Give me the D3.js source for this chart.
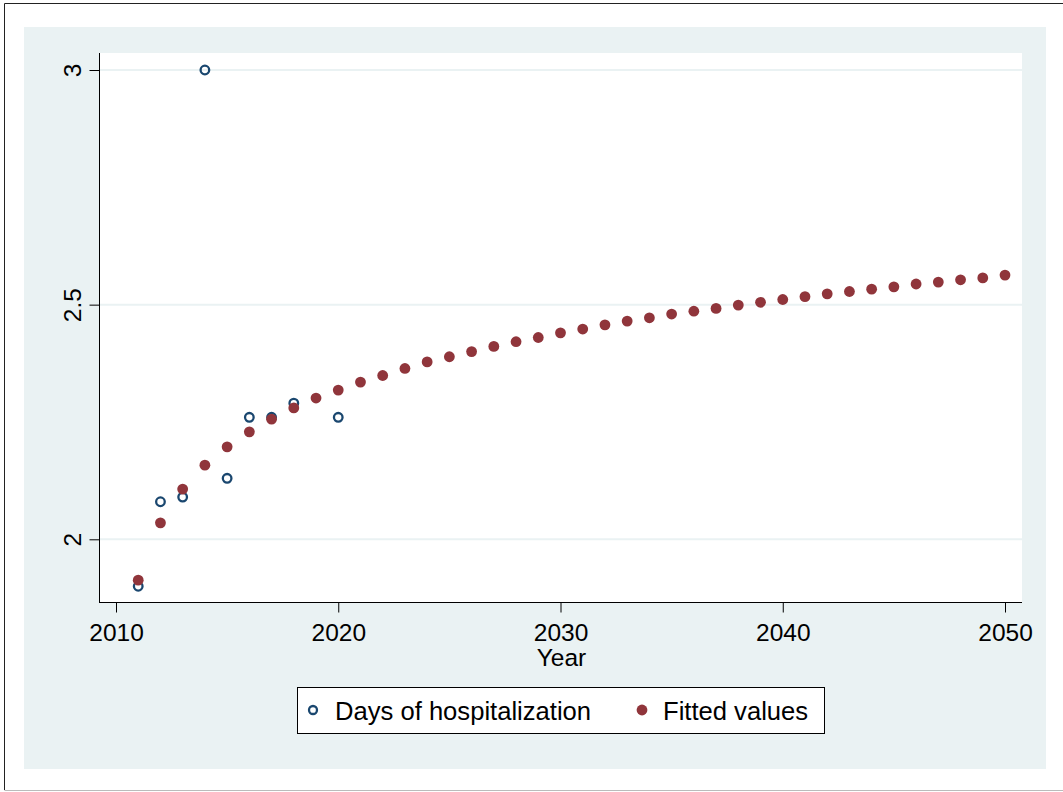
<!DOCTYPE html>
<meta charset="utf-8">
<script src="https://cdnjs.cloudflare.com/ajax/libs/d3/7.8.5/d3.min.js"></script>
<style>
body { margin: 0; background: #fff; }
text { font-family: "Liberation Sans", Arial, sans-serif; fill: #000; }
</style>
<body>
<script>

// observed days of hospitalization (2019 missing)
var obsYears = [2011, 2012, 2013, 2014, 2015, 2016, 2017, 2018, 2020];
var obsDays  = [1.90, 2.08, 2.09, 3.00, 2.13, 2.26, 2.26, 2.29, 2.26];

// fitted values 2011..2050
var fitYears = d3.range(2011, 2051);
var fitDays = [1.913, 2.035, 2.107, 2.158, 2.197, 2.229, 2.256, 2.280, 2.301, 2.318,
               2.335, 2.349, 2.364, 2.378, 2.389, 2.400, 2.411, 2.421, 2.430, 2.440,
               2.448, 2.457, 2.465, 2.472, 2.480, 2.486, 2.492, 2.499, 2.505, 2.511,
               2.517, 2.523, 2.528, 2.533, 2.538, 2.544, 2.548, 2.553, 2.557, 2.563];

var xTicks = [2010, 2020, 2030, 2040, 2050];
var yTicks = [2, 2.5, 3];

var width = 1063,
    height = 792;

var plot = {left: 100, top: 53, right: 1022, bottom: 602};

var navy = "#1a476f",
    maroon = "#90353b",
    bg = "#eaf2f3";

var svg = d3.select("body").append("svg")
    .attr("width", width)
    .attr("height", height);

// outer frame
svg.append("line").attr("x1", 4.5).attr("y1", 3.5).attr("x2", width).attr("y2", 3.5)
    .attr("stroke", "#222");
svg.append("line").attr("x1", 4.5).attr("y1", 3.5).attr("x2", 4.5).attr("y2", 790)
    .attr("stroke", "#222");
svg.append("line").attr("x1", 4.5).attr("y1", 790.5).attr("x2", width).attr("y2", 790.5)
    .attr("stroke", "#bbb");

// graph region
svg.append("rect")
    .attr("x", 24).attr("y", 27)
    .attr("width", 1046 - 24).attr("height", 769 - 27)
    .attr("fill", bg);

svg.append("rect")
    .attr("x", plot.left).attr("y", plot.top)
    .attr("width", plot.right - plot.left).attr("height", plot.bottom - plot.top)
    .attr("fill", "#fff");

var x = d3.scaleLinear().domain([2010, 2050]).range([116, 1005]);
var y = d3.scaleLinear().domain([2, 3]).range([539.3, 70]);

// gridlines
svg.selectAll(".grid")
    .data(yTicks)
  .enter().append("line")
    .attr("class", "grid")
    .attr("x1", plot.left).attr("x2", plot.right)
    .attr("y1", function(d) { return y(d); })
    .attr("y2", function(d) { return y(d); })
    .attr("stroke", bg)
    .attr("stroke-width", 2);

// y axis
var yAxis = svg.append("g")
    .attr("transform", "translate(" + (plot.left - 0.5) + ",0)")
    .call(d3.axisLeft(y).tickValues(yTicks).tickSize(10).tickFormat(d3.format("")));
yAxis.select(".domain").attr("d", "M0," + plot.top + "V" + plot.bottom).attr("stroke", "#000");
yAxis.selectAll(".tick line").attr("stroke", "#000");
yAxis.selectAll(".tick text")
    .attr("font-size", 24.5)
    .attr("x", 0).attr("dy", 0)
    .attr("text-anchor", "middle")
    .attr("transform", "translate(-19,0) rotate(-90)");

// x axis
var xAxis = svg.append("g")
    .attr("transform", "translate(0," + (plot.bottom + 0.5) + ")")
    .call(d3.axisBottom(x).tickValues(xTicks).tickSize(10).tickFormat(d3.format("d")));
xAxis.select(".domain").attr("d", "M" + (plot.left - 1) + ",0H" + plot.right).attr("stroke", "#000");
xAxis.selectAll(".tick line").attr("stroke", "#000");
xAxis.selectAll(".tick text")
    .attr("font-size", 24.5)
    .attr("y", 38).attr("dy", 0);
xAxis.selectAll("text").attr("fill", "#000").attr("font-family", null);
yAxis.selectAll("text").attr("fill", "#000").attr("font-family", null);

svg.append("text")
    .attr("x", (plot.left + plot.right) / 2 + 0.5)
    .attr("y", 666)
    .attr("text-anchor", "middle")
    .attr("font-size", 24.5)
    .text("Year");

// observed
svg.selectAll(".obs")
    .data(obsYears)
  .enter().append("circle")
    .attr("class", "obs")
    .attr("cx", function(d) { return x(d); })
    .attr("cy", function(d, i) { return y(obsDays[i]); })
    .attr("r", 4.3)
    .attr("fill", "none")
    .attr("stroke", navy)
    .attr("stroke-width", 2.3);

// fitted values drawn on top
svg.selectAll(".fit")
    .data(fitYears)
  .enter().append("circle")
    .attr("class", "fit")
    .attr("cx", function(d) { return x(d); })
    .attr("cy", function(d, i) { return y(fitDays[i]); })
    .attr("r", 5.4)
    .attr("fill", maroon);

// legend
var legend = svg.append("g");
legend.append("rect")
    .attr("x", 297.5).attr("y", 687.5)
    .attr("width", 824 - 297).attr("height", 733 - 687)
    .attr("fill", "#fff")
    .attr("stroke", "#000");
legend.append("circle")
    .attr("cx", 313).attr("cy", 710).attr("r", 4)
    .attr("fill", "none").attr("stroke", navy).attr("stroke-width", 2.3);
legend.append("text")
    .attr("x", 335).attr("y", 720)
    .attr("font-size", 25.6)
    .text("Days of hospitalization");
legend.append("circle")
    .attr("cx", 642).attr("cy", 710).attr("r", 5.4)
    .attr("fill", maroon);
legend.append("text")
    .attr("x", 663).attr("y", 720)
    .attr("font-size", 25.6)
    .text("Fitted values");

</script>
